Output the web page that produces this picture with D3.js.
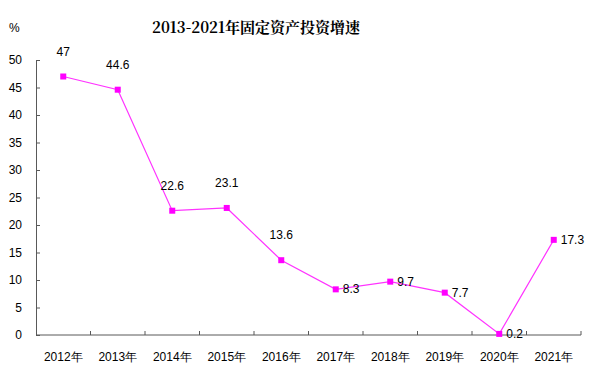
<!DOCTYPE html>
<html lang="zh">
<head>
    <meta charset="UTF-8">
    <title>2013-2021年固定资产投资增速</title>
    <script src="https://d3js.org/d3.v7.min.js"></script>
    <style>
        body {
            margin: 0;
            background: #fff;
            font-family: Arial, "Liberation Sans", sans-serif;
        }
        .title {
            font-family: "Noto Serif CJK SC", "DejaVu Serif", "Liberation Serif", "Noto Sans CJK SC", serif;
            font-weight: bold;
            font-size: 15px;
        }
        .axis text {
            font-size: 12px;
            fill: #000;
        }
        .axis path, .axis line {
            stroke: #595959;
        }
        .lbl {
            font-size: 12px;
            fill: #000;
        }
    </style>
</head>
<body>
    <div id="chart"></div>

    <script>
        const years = ["2012年", "2013年", "2014年", "2015年", "2016年", "2017年", "2018年", "2019年", "2020年", "2021年"];
        const growth = [47, 44.6, 22.6, 23.1, 13.6, 8.3, 9.7, 7.7, 0.2, 17.3];
        const yTicks = [0, 5, 10, 15, 20, 25, 30, 35, 40, 45, 50];

        const width = 592, height = 375;
        const margin = { top: 60, right: 11, bottom: 40, left: 36 };

        const svg = d3.select("#chart").append("svg")
            .attr("width", width)
            .attr("height", height);

        const x = d3.scaleBand()
            .domain(years)
            .range([margin.left, width - margin.right]);

        const y = d3.scaleLinear()
            .domain([0, 50])
            .range([height - margin.bottom, margin.top]);

        // title and unit
        svg.append("text")
            .attr("class", "title")
            .attr("x", 256)
            .attr("y", 33)
            .attr("text-anchor", "middle")
            .text("2013-2021年固定资产投资增速");

        svg.append("text")
            .attr("class", "lbl")
            .attr("x", 9)
            .attr("y", 32)
            .text("%");

        // y axis, ticks pointing inwards
        const yAxis = svg.append("g")
            .attr("class", "axis")
            .attr("transform", `translate(${margin.left},0)`)
            .call(d3.axisLeft(y).tickValues(yTicks).tickSizeInner(-4).tickSizeOuter(-4).tickPadding(14));

        // x axis with ticks between categories
        const xAxis = svg.append("g")
            .attr("class", "axis")
            .attr("transform", `translate(0,${y(0)})`)
            .call(d3.axisBottom(x).tickSize(0).tickPadding(17));
        xAxis.select(".domain").remove();
        xAxis.append("line")
            .attr("x1", margin.left).attr("x2", width - margin.right)
            .attr("stroke", "#595959");
        xAxis.selectAll(".sep")
            .data(years)
            .enter().append("line")
            .attr("class", "sep")
            .attr("x1", d => x(d) + x.bandwidth())
            .attr("x2", d => x(d) + x.bandwidth())
            .attr("y1", 0).attr("y2", -4)
            .attr("stroke", "#595959");

        const cx = (d, i) => x(years[i]) + x.bandwidth() / 2;

        const line = d3.line()
            .x((d, i) => cx(d, i))
            .y(d => y(d));

        svg.append("path")
            .datum(growth)
            .attr("fill", "none")
            .attr("stroke", "#ff33ff")
            .attr("stroke-width", 1.2)
            .attr("d", line);

        svg.append("g")
            .selectAll("rect")
            .data(growth)
            .enter().append("rect")
            .attr("x", (d, i) => cx(d, i) - 3)
            .attr("y", d => y(d) - 3)
            .attr("width", 6)
            .attr("height", 6)
            .attr("fill", "#ff00ff");

        // value labels: above for the first five, to the right after that
        svg.append("g")
            .selectAll("text")
            .data(growth)
            .enter().append("text")
            .attr("class", "lbl")
            .attr("x", (d, i) => i < 5 ? cx(d, i) : cx(d, i) + 7)
            .attr("y", (d, i) => i < 5 ? y(d) - 21 : y(d) + 4)
            .attr("text-anchor", (d, i) => i < 5 ? "middle" : "start")
            .text(d => d);
    </script>
</body>
</html>
